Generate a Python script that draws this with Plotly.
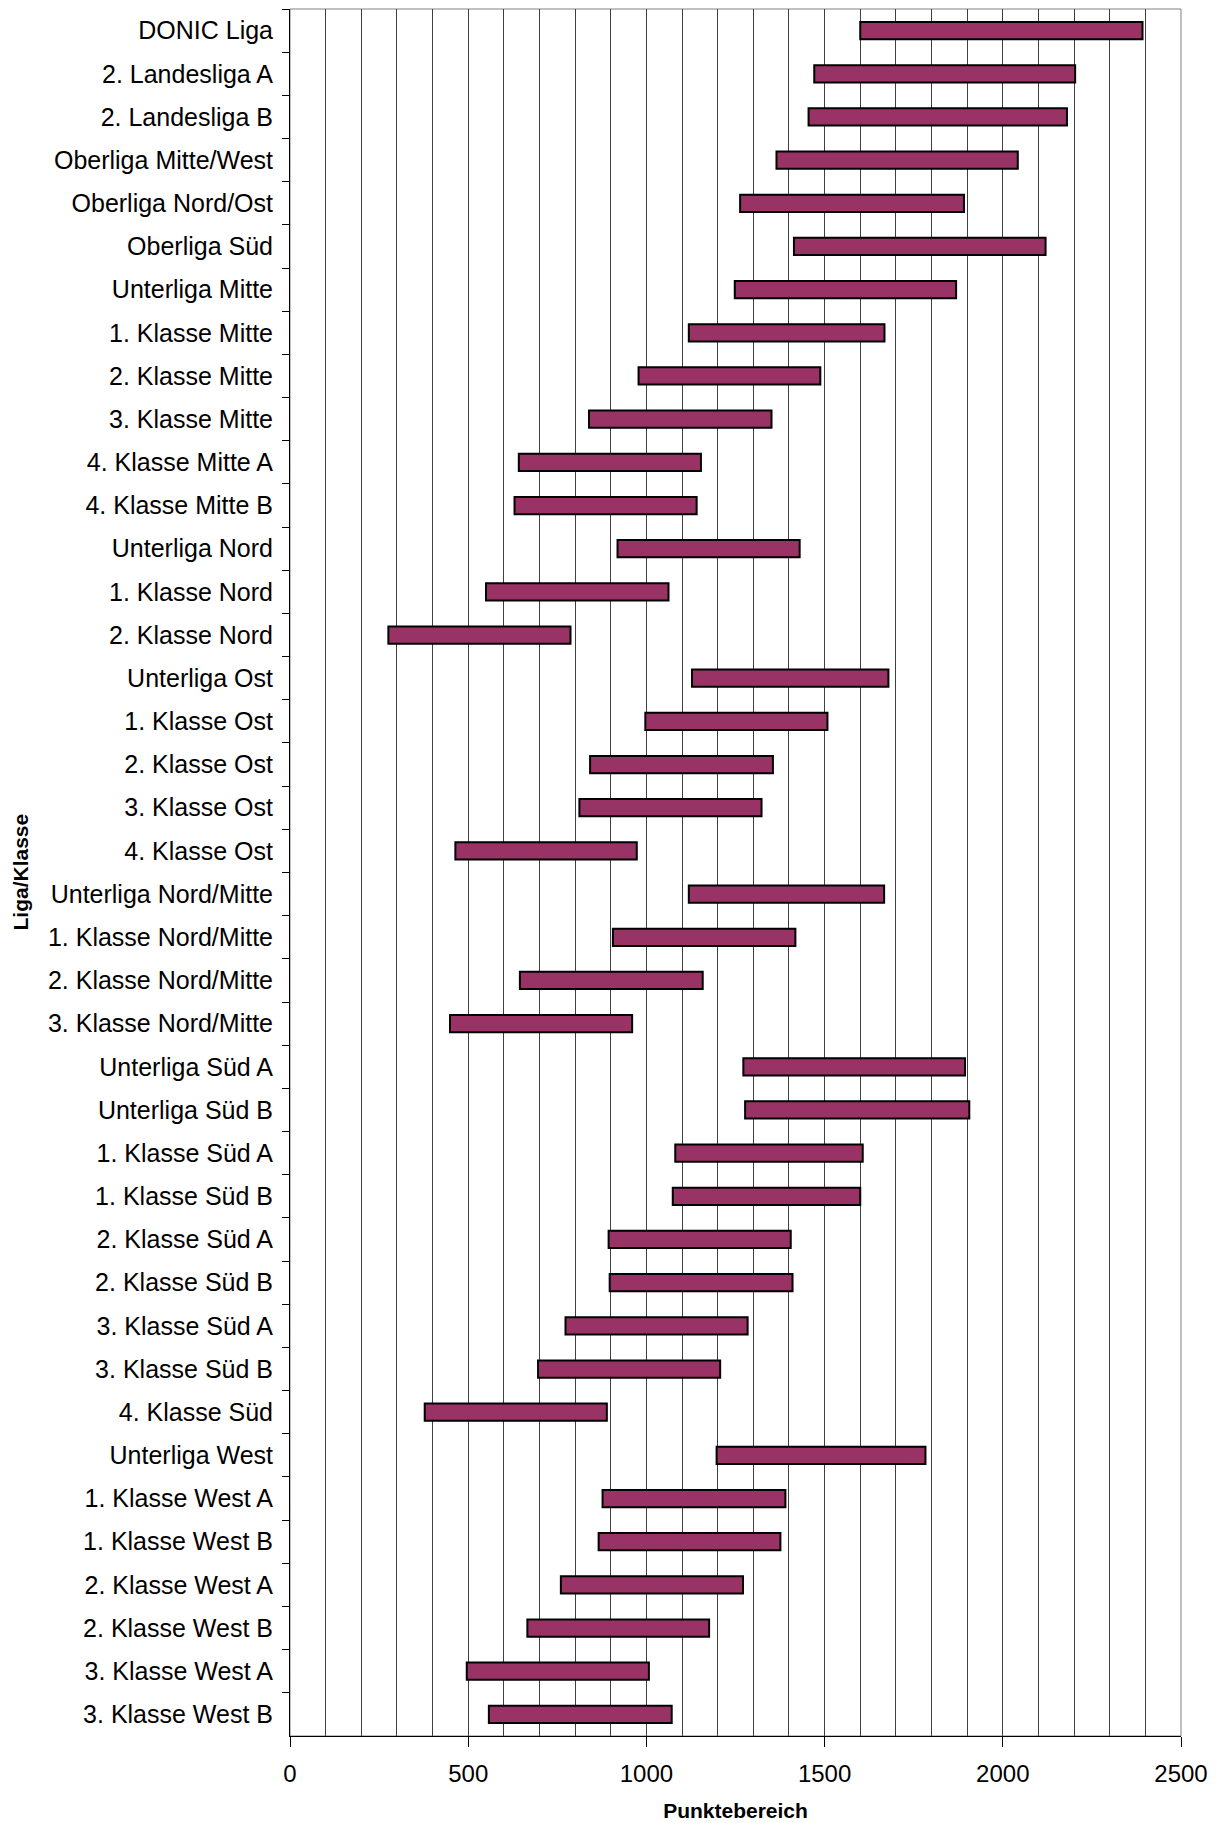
import plotly.graph_objects as go

categories = [
    "DONIC Liga", "2. Landesliga A", "2. Landesliga B", "Oberliga Mitte/West",
    "Oberliga Nord/Ost", "Oberliga Süd", "Unterliga Mitte", "1. Klasse Mitte",
    "2. Klasse Mitte", "3. Klasse Mitte", "4. Klasse Mitte A", "4. Klasse Mitte B",
    "Unterliga Nord", "1. Klasse Nord", "2. Klasse Nord", "Unterliga Ost",
    "1. Klasse Ost", "2. Klasse Ost", "3. Klasse Ost", "4. Klasse Ost",
    "Unterliga Nord/Mitte", "1. Klasse Nord/Mitte", "2. Klasse Nord/Mitte",
    "3. Klasse Nord/Mitte", "Unterliga Süd A", "Unterliga Süd B",
    "1. Klasse Süd A", "1. Klasse Süd B", "2. Klasse Süd A", "2. Klasse Süd B",
    "3. Klasse Süd A", "3. Klasse Süd B", "4. Klasse Süd", "Unterliga West",
    "1. Klasse West A", "1. Klasse West B", "2. Klasse West A", "2. Klasse West B",
    "3. Klasse West A", "3. Klasse West B",
]

range_min = [
    1600, 1471, 1455, 1365, 1263, 1414, 1248, 1119,
    978, 839, 642, 630, 919, 550, 276, 1128,
    997, 842, 812, 464, 1119, 906, 645, 449,
    1272, 1277, 1081, 1074, 894, 897, 773, 696,
    378, 1197, 877, 866, 760, 666, 496, 558,
]

range_max = [
    2392, 2203, 2180, 2042, 1891, 2120, 1869, 1668,
    1488, 1351, 1153, 1141, 1430, 1062, 787, 1679,
    1508, 1355, 1323, 973, 1667, 1418, 1158, 960,
    1894, 1906, 1607, 1600, 1405, 1410, 1284, 1207,
    889, 1783, 1390, 1376, 1271, 1176, 1007, 1071,
]

x_ticks = [0, 500, 1000, 1500, 2000, 2500]

spans = [hi - lo for lo, hi in zip(range_min, range_max)]

FONT = "Liberation Sans, Arial, Helvetica, sans-serif"

# page body has an 8px margin, so the figure is 8px smaller than the window
W, H = 1214, 1815
L, R, T, B = 282, 41, 1, 87
plot_w = W - L - R

fig = go.Figure()
fig.add_trace(go.Bar(
    y=categories,
    x=spans,
    base=range_min,
    orientation="h",
    width=0.4,
    marker=dict(color="#993366", line=dict(color="#000000", width=2)),
    hoverinfo="skip",
    showlegend=False,
))

fig.update_layout(
    width=W,
    height=H,
    margin=dict(l=L, r=R, t=T, b=B, autoexpand=False),
    paper_bgcolor="white",
    plot_bgcolor="white",
    font=dict(family=FONT, color="black"),
    shapes=[dict(type="rect", xref="paper", yref="paper", x0=0, x1=1, y0=0, y1=1,
                 line=dict(color="#808080", width=1), layer="below")],
    annotations=[dict(
        text="<b>Liga/Klasse</b>", xref="paper", yref="paper",
        x=(12 - L) / plot_w, y=0.5, textangle=-90, showarrow=False,
        font=dict(size=21, family=FONT), xanchor="center", yanchor="middle",
    )],
)

fig.update_xaxes(
    range=[0, 2500],
    tickvals=x_ticks,
    ticktext=[str(v) for v in x_ticks],
    ticks="outside",
    ticklen=10,
    tickcolor="black",
    tickfont=dict(size=24, family=FONT),
    ticklabelstandoff=6,
    showline=True,
    linecolor="black",
    linewidth=1,
    showgrid=True,
    gridcolor="#404040",
    gridwidth=1,
    minor=dict(dtick=100, tick0=0, showgrid=True, gridcolor="#404040", gridwidth=1, ticks=""),
    zeroline=False,
    automargin=False,
    title=dict(text="<b>Punktebereich</b>", font=dict(size=21, family=FONT), standoff=17),
)

fig.update_yaxes(
    categoryorder="array",
    categoryarray=categories,
    autorange="reversed",
    ticks="outside",
    tickson="boundaries",
    ticklen=7,
    tickcolor="black",
    tickfont=dict(size=25, family=FONT),
    ticklabelstandoff=11,
    showline=True,
    linecolor="black",
    linewidth=1,
    showgrid=False,
    zeroline=False,
    automargin=False,
)

fig.write_html("out.html")
